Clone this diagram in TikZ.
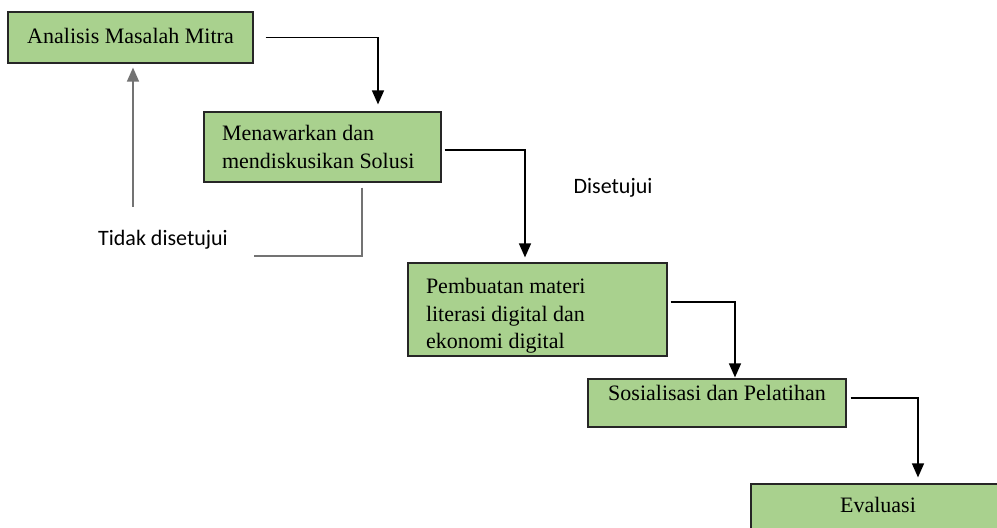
\documentclass[tikz,border=0pt]{standalone}
\usepackage{fontspec}
\setmainfont{Liberation Serif}
\newfontfamily\lblfont{Carlito}
\usetikzlibrary{arrows.meta}
\usetikzlibrary{positioning}
\definecolor{boxgreen}{HTML}{A9D18E}
\tikzset{stage/.style={draw=black!85, line width=0.6pt, fill=boxgreen, inner sep=0pt,
           font=\fontsize{11}{13.75}\selectfont},
         flow/.style={line width=0.7pt, -{Triangle[width=6pt,length=7pt]}},
         back/.style={line width=0.7pt, draw=black!55},
         lbl/.style={font=\lblfont\fontsize{11}{13}\selectfont}}
\newcommand{\up}[2]{\raisebox{#1}[\height][\depth]{#2}}

\begin{document}
\begin{tikzpicture}[x=0.5pt,y=-0.5pt]
  \clip (0,0) rectangle (997,528);
  \fill[white] (0,0) rectangle (997,528);
    \node[stage, minimum width=122.5pt, minimum height=25.5pt] (A) at (130.5,37.5) {\up{1pt}{Analisis Masalah Mitra}};
    \node[stage, minimum width=118.5pt, minimum height=35pt, text width=100.5pt, align=flush left] (B) at (322.5,147) {Menawarkan dan\\mendiskusikan Solusi};
    \node[stage, minimum width=129.5pt, minimum height=46.5pt, text width=111.5pt, align=flush left] (C) at (537.5,309.5) {\rule{0pt}{14pt}Pembuatan materi\\literasi digital dan\\ekonomi digital};
    \node[stage, minimum width=129pt, minimum height=24pt] (D) at (717,403) {\up{5pt}{Sosialisasi dan Pelatihan}};
    \node[stage, minimum width=127pt, minimum height=24pt] (E) at (878,508) {\up{1.5pt}{Evaluasi}};
    \node[lbl] (yes) at (613,188) {Disetujui};
    \node[lbl] (no) at (163,240) {Tidak disetujui};
    \coordinate (nb) at (254,256);
    \coordinate (nu) at (133,207);
  \draw[flow] ([xshift=6pt]A.east) -| ([xshift=27.75pt,yshift=3.5pt]B.north);
  \draw[flow] ([xshift=1.5pt,yshift=-1.5pt]B.east) -| ([xshift=-6.25pt,yshift=2.5pt]C.north);
  \draw[flow] ([xshift=1.5pt,yshift=3.75pt]C.east) -| ([xshift=9pt,yshift=0.5pt]D.north);
  \draw[flow] ([xshift=2pt,yshift=2.5pt]D.east) -| ([xshift=20pt,yshift=3pt]E.north);
  % tidak disetujui
  \draw[back] ([xshift=19.75pt,yshift=-2.5pt]B.south) |- (nb);
  \draw[back, -{Triangle[width=6pt,length=7pt]}] (nu) -- ([xshift=1.25pt,yshift=-2pt]A.south);
\end{tikzpicture}
\end{document}
